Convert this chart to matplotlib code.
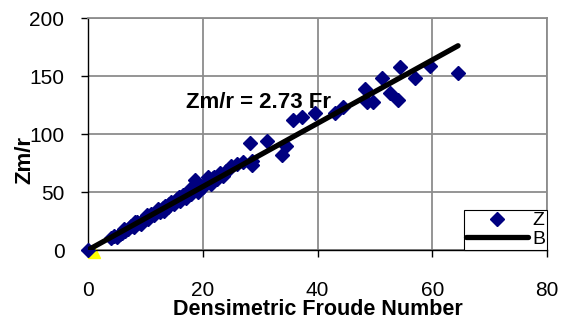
import matplotlib
matplotlib.use("Agg")
import matplotlib.pyplot as plt

plt.rcParams["font.family"] = ["Liberation Sans", "DejaVu Sans"]

# measured points: densimetric Froude number vs. Zm/r
fr = [0.0, 4.0, 4.5, 5.0, 5.5, 6.0, 6.5, 7.0, 7.5, 8.0, 8.5, 9.0, 9.5, 10.0,
      10.5, 11.0, 11.5, 12.0, 12.5, 13.0, 13.5, 14.0, 14.5, 15.0, 15.5, 16.0,
      16.5, 17.0, 17.5, 18.0, 18.6, 19.0, 19.5, 20.0, 20.5, 21.0, 21.5, 22.0,
      22.5, 23.0, 23.5, 24.0, 24.5, 25.0, 26.0, 27.0, 28.2, 28.6, 28.6, 31.2,
      33.8, 34.5, 35.7, 37.3, 39.5, 43.0, 44.4, 48.3, 48.6, 49.7, 51.2, 52.6,
      54.0, 54.4, 57.0, 59.6, 64.5,
      6.2, 8.2, 10.2, 12.2, 14.2, 16.2, 19.2, 21.8, 9.2, 13.2, 15.8, 17.8]
zm_r = [0, 10, 12, 11, 14, 15, 16, 18, 21, 20, 24, 23, 25, 28,
        27, 31, 30, 34, 33, 36, 38, 37, 41, 40, 44, 42,
        47, 45, 49, 48, 60, 52, 55, 54, 58, 63, 57, 63,
        61, 66, 64, 68, 70, 72, 74, 76, 92, 77, 73, 94,
        82, 90, 112, 115, 118, 118, 123, 139, 128, 128, 148, 135,
        129, 158, 148, 159, 153,
        18, 24, 30, 35, 40, 46, 50, 62, 22, 34, 46, 53]

slope = 2.73
fit_x = [0, 64.5]

# point near the origin
extra_x = [1.0]
extra_y = [-1.5]

x_ticks = [0, 20, 40, 60, 80]
y_ticks = [0, 50, 100, 150, 200]

fig = plt.figure(figsize=(5.66, 3.22), dpi=100)
ax = fig.add_axes([88 / 566, 1 - 250 / 322, (547 - 88) / 566, (250 - 18) / 322])

ax.set_xlim(0, 80)
ax.set_ylim(0, 200)
ax.set_xticks(x_ticks)
ax.set_yticks(y_ticks)
ax.grid(True, color="#8c8c8c", linewidth=1.3)
ax.set_axisbelow(True)

for side in ("top", "right"):
    ax.spines[side].set_color("#8c8c8c")
    ax.spines[side].set_linewidth(1.3)
for side in ("left", "bottom"):
    ax.spines[side].set_color("black")
    ax.spines[side].set_linewidth(1.0)

ax.tick_params(direction="out", length=5, width=1, colors="black",
               labelsize=15)
ax.tick_params(axis="x", pad=17)
ax.tick_params(axis="y", pad=12)

ax.plot(extra_x, extra_y, marker="^", color="#ffff00", markersize=9,
        linestyle="none", clip_on=False, zorder=2)
ax.plot(fr, zm_r, marker="D", color="#000080", markersize=7.5,
        linestyle="none", clip_on=False, zorder=3, label="Z")
fit_y = [slope * v for v in fit_x]
ax.plot(fit_x, fit_y, color="black", linewidth=3.8, solid_capstyle="round",
        zorder=4, label="B")

ax.text(17.0, 127.5, f"Zm/r = {slope} Fr", fontsize=16, fontweight="bold",
        va="center", ha="left", zorder=5)

ax.set_xlabel("Densimetric Froude Number", fontsize=15.5, fontweight="bold",
              va="center")
ax.xaxis.set_label_coords(0.5, -0.258)
ax.set_ylabel("Zm/r", fontsize=16, fontweight="bold")
ax.yaxis.set_label_coords(-0.115, 0.39)

leg = ax.legend(loc="lower right", bbox_to_anchor=(1.0, 0.0),
                borderaxespad=0, fancybox=False, framealpha=1,
                edgecolor="black", fontsize=14, handlelength=3.2,
                handletextpad=0.2, borderpad=0.1, labelspacing=0.05,
                markerfirst=True)
leg.get_frame().set_linewidth(0.8)

fig.savefig("out.png", dpi=100)
